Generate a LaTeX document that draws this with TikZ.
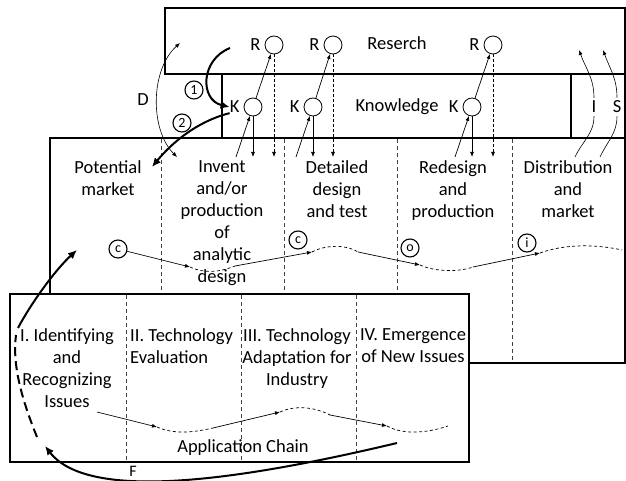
\documentclass[tikz,border=0pt]{standalone}
\usepackage{fontspec}
\setmainfont{Carlito}
\usetikzlibrary{arrows.meta, positioning, calc}

\begin{document}
\begin{tikzpicture}[x=1pt, y=-1pt,
  box/.style={draw, line width=1.4pt},
  sep/.style={draw=black!75, dash pattern=on 4pt off 3pt, line width=0.9pt},
  circ/.style={circle, draw, line width=0.8pt, minimum size=18pt, inner sep=0pt},
  ring/.style={circle, draw, line width=1.1pt, minimum size=18pt, inner sep=0pt, font=\fontsize{14}{14}\selectfont},
  txt/.style={align=center, font=\fontsize{18.5}{22}\selectfont, inner sep=0pt, text=black},
  arr/.style={-{Latex[length=5pt,width=4pt]}, line width=0.7pt},
  twoway/.style={{Latex[length=5pt,width=4pt]}-{Latex[length=5pt,width=4pt]}, line width=0.6pt},
  big/.style={-{Latex[length=9pt,width=8pt]}, line width=2pt},
  wavy/.style={dash pattern=on 3pt off 2.5pt, line width=0.7pt},
]
\useasboundingbox (0,0) rectangle (626,481);

% frames
\draw[box] (165,8) rectangle (625,74);
\draw[box] (222,74) rectangle (625,138);
\draw[box] (571,74) -- (571,138);
\draw[box, fill=white] (50,138) rectangle (625,363);
\foreach \x in {161,284,397,512}
  \draw[sep] (\x,139) -- (\x,362);
\draw[box, fill=white] (10,294) rectangle (469,462);
\foreach \x in {126,241,356}
  \draw[sep] (\x,295) -- (\x,461);

% labels
\node[txt] (res) at (397,43) {Reserch};
\node[txt] (kn) at (397,107) {Knowledge};
\node[txt] (d) at (143,100) {D};
\node[txt, inner sep=3pt] (il) at (594,107) {I};
\node[txt, inner sep=3pt] (sl) at (617,107) {S};

\node[txt, anchor=north] (pm) at (108,160) {Potential\\market};
\node[txt, anchor=north] (inv) at (222,160) {Invent\\and/or\\production\\of\\analytic\\design};
\node[txt, anchor=north] (det) at (337,160) {Detailed\\design\\and test};
\node[txt, anchor=north] (red) at (453,160) {Redesign\\and\\production};
\node[txt, anchor=north] (dis) at (568,160) {Distribution\\and\\market};

\node[txt, anchor=north] (s1) at (67,328) {I. Identifying\\and\\Recognizing\\Issues};
\node[txt, anchor=north west, align=left] (s2) at (130,328) {II. Technology\\Evaluation};
\node[txt, anchor=north] (s3) at (297,328) {III. Technology\\Adaptation for\\Industry};
\node[txt, anchor=north] (s4) at (413,328) {IV. Emergence\\of New Issues};
\node[txt] (ac) at (243,448) {Application Chain};
\node[txt, font=\fontsize{16}{16}\selectfont] (f) at (133,471) {F};

% R and K
\coordinate (lvl) at (0,157);
\foreach \n/\kx/\rx in {1/253/274, 2/313/333, 3/472/493}{
  \node[circ, label={[txt, name=k\n l, label distance=4pt]left:K}] (k\n) at (\kx,107) {};
  \node[circ, label={[txt, label distance=4pt]left:R}] (r\n) at (\rx,45) {};
  \draw[arr] (k\n) -- (r\n);
  \draw[arr] (k\n) -- (k\n |- lvl);
  \draw[arr, dash pattern=on 3pt off 2pt] (r\n) -- (r\n |- lvl);
  \draw[arr] ($(k\n |- lvl)+(-17,0)$) -- (k\n);
}

% 1 and 2
\node[ring] (n1) at (194,90) {1};
\node[ring] (n2) at (182,123) {2};
\coordinate (from1) at (230,48);
\coordinate (pmtip) at (152,167);
\draw[big] (from1) .. controls (200,60) and (200,100) .. (k1l.west);
\draw[big] (k1l.south west) .. controls (195,122) and (170,145) .. (pmtip);

% D, I, S
\coordinate (dt) at (180,43);
\coordinate (db) at (177,157);
\draw[twoway] (db) .. controls (150,130) and (150,70) .. (dt);
\coordinate (ib) at (575,157);
\coordinate (it) at (579,50);
\draw[line width=0.6pt] (ib) to[out=65,in=-90] (il.south);
\draw[arr, line width=0.6pt] (il.north) to[out=90,in=-70] (it);
\coordinate (sb) at (600,157);
\coordinate (st) at (603,50);
\draw[line width=0.6pt] (sb) to[out=65,in=-90] (sl.south);
\draw[arr, line width=0.6pt] (sl.north) to[out=90,in=-70] (st);

% invention chain
\node[ring] (c1) at (118,249) {c};
\node[ring] (c2) at (298,240) {c};
\node[ring] (o1) at (410,248) {o};
\node[ring] (i1) at (527,243) {i};
\draw[arr] (c1) -- (190,267);
\draw[wavy] (190,267) .. controls (205,274) and (220,272) .. (235,266);
\draw[arr] (235,266) -- (312,252);
\draw[wavy] (312,252) .. controls (325,245) and (345,244) .. (358,252);
\draw[arr] (358,252) -- (420,265);
\draw[wavy] (420,265) .. controls (435,272) and (460,272) .. (473,267);
\draw[arr] (473,267) -- (540,253);
\draw[wavy] (540,253) .. controls (565,244) and (595,244) .. (622,250);

% application chain
\draw[arr] (97,412) -- (157,427);
\draw[wavy] (157,427) .. controls (175,435) and (195,432) .. (213,428);
\draw[arr] (213,428) -- (280,412);
\draw[wavy] (280,412) .. controls (295,405) and (315,407) .. (330,415);
\draw[arr] (330,415) -- (387,426);
\draw[wavy] (387,426) .. controls (405,436) and (430,432) .. (448,426);

% F loop
\coordinate (fs) at (397,443);
\coordinate (fe) at (45,446);
\draw[big] (fs) .. controls (250,478) and (90,504) .. (fe);
\draw[line width=2pt, dash pattern=on 9pt off 5pt] (37,437) .. controls (22,400) and (12,365) .. (16,335);
\draw[big] (18,328) .. controls (30,305) and (55,270) .. (77,250);
\end{tikzpicture}
\end{document}
